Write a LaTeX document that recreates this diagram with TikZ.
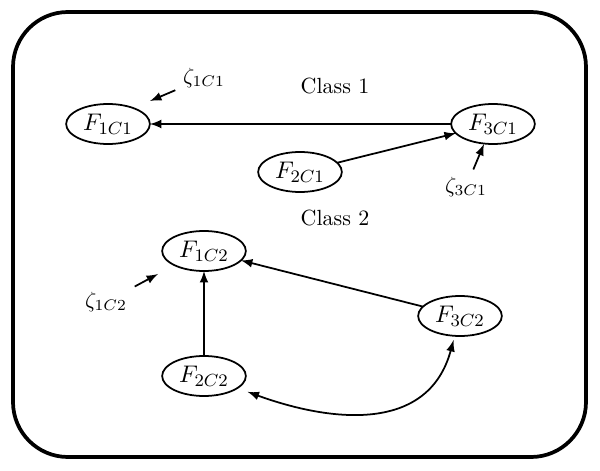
\documentclass[tikz,border=0pt]{standalone}
\usepackage{amssymb,amsmath}
\usepackage{xcolor}
\usepackage{tikz}
\usepackage{tkz-graph}
\usetikzlibrary{arrows,shapes}

\begin{document}
\begin{tikzpicture}[x=0.016cm,y=0.016cm,>=latex]
        %\GraphInit[vstyle=Welsh]
        \GraphInit[vstyle=Normal]
        \tikzset{VertexStyle/.style={draw, ellipse, line width=0.8pt, inner sep=1pt,
                minimum width=1.34cm, minimum height=0.64cm, font=\fontsize{11}{13}\selectfont},
            EdgeStyle/.style={->, line width=0.8pt}}
        \useasboundingbox (0,0) rectangle (600,471);
        \draw[line width=1.7pt, rounded corners=0.88cm] (13,14) rectangle (586,459);
        \node (cls1) at (335,385) {Class 1};
        \node (cls2) at (335,253) {Class 2};
        \Vertex[x=108,y=347,L={$F_{1C1}$}]{F1C1}
        \Vertex[x=493,y=347,L={$F_{3C1}$}]{F3C1}
        \Vertex[x=300,y=299,L={$F_{2C1}$}]{F2C1}
        \Vertex[x=204,y=220,L={$F_{1C2}$}]{F1C2}
        \Vertex[x=204,y=95,L={$F_{2C2}$}]{F2C2}
        \Vertex[x=460,y=155,L={$F_{3C2}$}]{F3C2}
        \Edge(F3C1)(F1C1)
        \Edge(F2C1)(F3C1)
        \Edge(F2C2)(F1C2)
        \Edge(F3C2)(F1C2)
        \draw[<->, line width=0.8pt, shorten <=5pt, shorten >=2pt]
            (F2C2) to[out=-20, in=-105, looseness=1.15] (F3C2);
        % error terms
        \node (z1C1) at (204,393) {$\zeta_{1C1}$};
        \node (z3C1) at (466,284) {$\zeta_{3C1}$};
        \node (z1C2) at (106,169) {$\zeta_{1C2}$};
        \coordinate (t1C1) at (150,370);
        \coordinate (t3C1) at (484,327);
        \coordinate (t1C2) at (158,197);
        \draw[->, line width=0.8pt] (z1C1) -- (t1C1);
        \draw[->, line width=0.8pt] (z3C1) -- (t3C1);
        \draw[->, line width=0.8pt] (z1C2) -- (t1C2);
    \end{tikzpicture}
\end{document}
